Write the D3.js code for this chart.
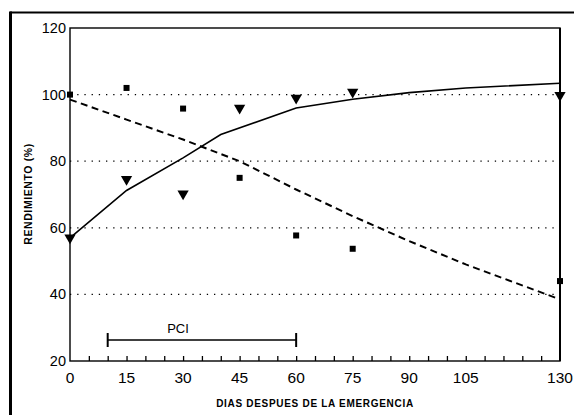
<!DOCTYPE html>
<html><head><meta charset="utf-8">
<script src="https://cdn.jsdelivr.net/npm/d3@7"></script>
<style>body{margin:0;background:#fff}svg{display:block}</style>
</head><body>
<svg id="c" width="574" height="415"></svg>
<script>
// Data
const sampleDays = [0, 15, 30, 45, 60, 75, 130];
const squareValues = [100, 102, 95.8, 75, 57.7, 53.7, 44];
const triangleValues = [57, 74.6, 70.2, 96, 99, 100.8, 99.8];
const solidDays = [0, 15, 30, 40, 60, 75, 90, 105, 130];
const solidValues = [57, 71.2, 81, 88, 96, 98.6, 100.6, 102, 103.4];
const dashedDays = [0, 15, 30, 45, 60, 75, 90, 105, 130];
const dashedValues = [98.5, 92.5, 86.5, 80, 71.5, 63.5, 56, 49, 38.5];
const xTickLabels = [0, 15, 30, 45, 60, 75, 90, 105, 130];
const xMinorTicks = d3.range(5, 130, 5);
const yTickLabels = [20, 40, 60, 80, 100, 120];
const gridValues = [40, 60, 80, 100];
const pciRange = [10, 60];
const pciLevel = 26.3;
const pciLabel = "PCI";
const xTitle = "DIAS DESPUES DE LA EMERGENCIA";
const yTitle = "RENDIMIENTO (%)";

const svg = d3.select("#c");
const L = 70, R = 560, T = 28, B = 361;
const x = d3.scaleLinear().domain([0, 130]).range([L, R]);
const y = d3.scaleLinear().domain([20, 120]).range([B, T]);
const font = "'Liberation Sans', Arial, sans-serif";

// outer frame
svg.append("line").attr("x1", 10).attr("x2", 574).attr("y1", 12.5).attr("y2", 12.5)
  .attr("stroke", "#000").attr("stroke-width", 2.2);
svg.append("line").attr("x1", 10.5).attr("x2", 10.5).attr("y1", 11.5).attr("y2", 415)
  .attr("stroke", "#000").attr("stroke-width", 3);

// gridlines
svg.append("g").selectAll("line").data(gridValues).join("line")
  .attr("x1", L).attr("x2", R).attr("y1", d => y(d)).attr("y2", d => y(d))
  .attr("stroke", "#000").attr("stroke-width", 1.3).attr("stroke-dasharray", "1.3,5.9");

// plot frame
svg.append("rect").attr("x", L).attr("y", T).attr("width", R - L).attr("height", B - T)
  .attr("fill", "none").attr("stroke", "#000").attr("stroke-width", 1.4);
svg.append("line").attr("x1", R).attr("x2", R).attr("y1", T).attr("y2", B)
  .attr("stroke", "#000").attr("stroke-width", 2);

// x axis ticks (inward)
const xAxis = d3.axisBottom(x).tickValues(xMinorTicks).tickSize(-5).tickFormat("");
const gx = svg.append("g").attr("transform", `translate(0,${B})`).call(xAxis);
gx.select(".domain").remove();
gx.selectAll("line").attr("stroke", "#000").attr("stroke-width", 1.3);

// x tick labels
svg.append("g").selectAll("text").data(xTickLabels).join("text")
  .attr("x", d => x(d)).attr("y", 383).attr("text-anchor", "middle")
  .attr("font-family", font).attr("font-size", 15.5).text(d => d);

// y tick labels
svg.append("g").selectAll("text").data(yTickLabels).join("text")
  .attr("x", 66).attr("y", d => y(d) + 5).attr("text-anchor", "end")
  .attr("font-family", font).attr("font-size", 14.5).text(d => d);

// titles
svg.append("text").attr("x", 315).attr("y", 407).attr("text-anchor", "middle")
  .attr("font-family", font).attr("font-weight", "bold").attr("font-size", 10)
  .attr("letter-spacing", 0.7).text(xTitle);
svg.append("text").attr("transform", "translate(32,194) rotate(-90)").attr("text-anchor", "middle")
  .attr("font-family", font).attr("font-weight", "bold").attr("font-size", 10.5)
  .attr("letter-spacing", 0.6).text(yTitle);

// curves
const solid = d3.line().x((d, i) => x(solidDays[i])).y(d => y(d));
svg.append("path").attr("d", solid(solidValues)).attr("fill", "none")
  .attr("stroke", "#000").attr("stroke-width", 1.6);
const dashed = d3.line().x((d, i) => x(dashedDays[i])).y(d => y(d));
svg.append("path").attr("d", dashed(dashedValues)).attr("fill", "none")
  .attr("stroke", "#000").attr("stroke-width", 2).attr("stroke-dasharray", "7,4.5");

// squares
svg.append("g").selectAll("rect").data(squareValues).join("rect")
  .attr("x", (d, i) => x(sampleDays[i]) - 3).attr("y", d => y(d) - 3)
  .attr("width", 6).attr("height", 6).attr("fill", "#000");

// triangles (down)
const tri = d3.symbol().type(d3.symbolTriangle).size(55);
svg.append("g").selectAll("path").data(triangleValues).join("path")
  .attr("d", tri)
  .attr("transform", (d, i) => `translate(${x(sampleDays[i])},${y(d)}) rotate(180)`)
  .attr("fill", "#000");

// PCI bar
const py = y(pciLevel);
svg.append("line").attr("x1", x(pciRange[0])).attr("x2", x(pciRange[1]))
  .attr("y1", py).attr("y2", py).attr("stroke", "#000").attr("stroke-width", 1.6);
svg.append("g").selectAll("line").data(pciRange).join("line")
  .attr("x1", d => x(d)).attr("x2", d => x(d)).attr("y1", py - 7).attr("y2", py + 7)
  .attr("stroke", "#000").attr("stroke-width", 2);
svg.append("text").attr("x", 178).attr("y", 333).attr("text-anchor", "middle")
  .attr("font-family", font).attr("font-size", 13).text(pciLabel);
</script>
</body></html>
